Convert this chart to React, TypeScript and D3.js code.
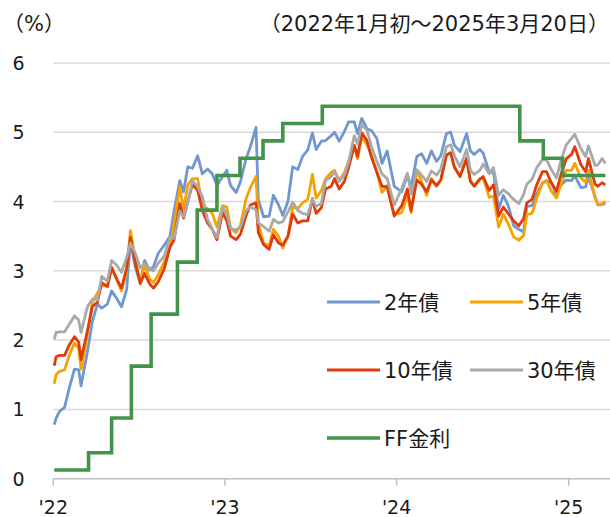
import React from 'react';
import * as d3 from 'd3';

const dates = [
  "2022-01-03","2022-01-07","2022-01-14","2022-01-25","2022-02-04","2022-02-15","2022-02-24","2022-03-01","2022-03-15","2022-03-25",
  "2022-04-05","2022-04-14","2022-04-26","2022-05-05","2022-05-16","2022-05-26","2022-06-06","2022-06-14","2022-06-24","2022-07-05",
  "2022-07-14","2022-07-25","2022-08-02","2022-08-12","2022-08-25","2022-09-06","2022-09-15","2022-09-27","2022-10-05","2022-10-14",
  "2022-10-24","2022-11-04","2022-11-14","2022-11-25","2022-12-05","2022-12-15","2022-12-27",
  "2023-01-05","2023-01-13","2023-01-25","2023-02-03","2023-02-15","2023-02-24","2023-03-08","2023-03-13","2023-03-24","2023-04-05",
  "2023-04-14","2023-04-25","2023-05-04","2023-05-15","2023-05-25","2023-06-05","2023-06-15","2023-06-26","2023-07-06","2023-07-14",
  "2023-07-25","2023-08-03","2023-08-15","2023-08-22","2023-09-01","2023-09-12","2023-09-21","2023-10-03","2023-10-10","2023-10-19",
  "2023-10-30","2023-11-09","2023-11-20","2023-12-01","2023-12-12","2023-12-27",
  "2024-01-12","2024-01-24","2024-02-01","2024-02-13","2024-02-23","2024-03-05","2024-03-15","2024-03-26","2024-04-04","2024-04-16",
  "2024-04-25","2024-05-03","2024-05-15","2024-05-29","2024-06-06","2024-06-14","2024-06-26","2024-07-03","2024-07-16","2024-07-25",
  "2024-08-05","2024-08-15","2024-08-26","2024-09-06","2024-09-17","2024-09-27","2024-10-04","2024-10-15","2024-10-25","2024-11-06",
  "2024-11-15","2024-11-25","2024-12-06","2024-12-16","2024-12-27",
  "2025-01-07","2025-01-14","2025-01-27","2025-02-06","2025-02-12","2025-02-26","2025-03-04","2025-03-13","2025-03-20"
];

const y2 = [
  0.78,0.87,0.97,1.03,1.31,1.58,1.57,1.34,1.85,2.27,
  2.52,2.46,2.52,2.71,2.60,2.48,2.73,3.43,3.06,2.82,
  3.15,3.01,3.06,3.25,3.37,3.50,3.87,4.30,4.14,4.50,
  4.48,4.66,4.40,4.47,4.40,4.23,4.36,
  4.45,4.23,4.13,4.29,4.62,4.79,5.07,4.03,3.78,3.79,
  4.09,3.95,3.80,4.00,4.50,4.46,4.65,4.74,4.99,4.75,
  4.87,4.88,4.95,5.00,4.87,5.01,5.15,5.15,4.98,5.20,
  5.05,5.02,4.91,4.55,4.73,4.22,
  4.14,4.38,4.21,4.65,4.69,4.55,4.73,4.58,4.66,4.98,
  5.00,4.81,4.72,4.98,4.73,4.68,4.75,4.70,4.42,4.42,
  3.89,4.09,3.93,3.65,3.60,3.56,3.93,3.94,4.11,4.27,
  4.30,4.27,4.10,4.24,4.31,
  4.30,4.37,4.20,4.21,4.36,4.07,3.95,3.96,3.97
];

const y5 = [
  1.37,1.50,1.55,1.57,1.78,1.96,1.88,1.58,2.10,2.55,
  2.68,2.79,2.79,3.04,2.87,2.71,3.00,3.58,3.19,2.81,
  3.09,2.88,2.83,2.94,3.13,3.34,3.68,4.21,3.89,4.24,
  4.33,4.33,3.93,3.90,3.83,3.63,3.94,
  3.92,3.61,3.55,3.66,4.04,4.20,4.36,3.69,3.40,3.36,
  3.60,3.50,3.33,3.50,3.92,3.90,3.98,4.03,4.39,4.05,
  4.16,4.33,4.42,4.45,4.30,4.42,4.58,4.80,4.62,4.94,
  4.82,4.66,4.43,4.13,4.23,3.81,
  3.84,4.08,3.84,4.45,4.29,4.09,4.33,4.22,4.31,4.67,
  4.71,4.48,4.37,4.62,4.30,4.23,4.33,4.34,4.06,4.08,
  3.63,3.82,3.67,3.49,3.44,3.51,3.81,3.83,4.05,4.26,
  4.30,4.15,4.05,4.26,4.45,
  4.45,4.55,4.34,4.28,4.45,4.05,3.96,3.97,4.00
];

const y10 = [
  1.63,1.76,1.78,1.78,1.93,2.05,1.97,1.72,2.15,2.48,
  2.55,2.83,2.77,3.05,2.88,2.75,3.04,3.48,3.13,2.82,
  2.96,2.81,2.75,2.84,3.03,3.34,3.45,3.97,3.76,4.00,
  4.25,4.16,3.87,3.69,3.60,3.45,3.84,
  3.72,3.50,3.45,3.53,3.80,3.95,3.98,3.55,3.38,3.31,
  3.52,3.40,3.37,3.50,3.82,3.69,3.72,3.72,4.04,3.83,
  3.91,4.18,4.22,4.33,4.18,4.29,4.49,4.81,4.65,4.99,
  4.88,4.63,4.42,4.22,4.21,3.79,
  3.94,4.18,3.87,4.31,4.25,4.14,4.31,4.23,4.31,4.67,
  4.70,4.50,4.36,4.62,4.29,4.22,4.32,4.36,4.16,4.24,
  3.79,3.92,3.82,3.72,3.65,3.75,3.98,4.03,4.24,4.43,
  4.43,4.27,4.15,4.40,4.62,
  4.68,4.79,4.53,4.43,4.62,4.25,4.22,4.27,4.24
];

const y30 = [
  2.01,2.11,2.12,2.12,2.23,2.35,2.29,2.11,2.49,2.59,
  2.58,2.92,2.85,3.15,3.08,2.98,3.19,3.40,3.26,3.04,
  3.10,3.03,3.00,3.11,3.21,3.49,3.47,3.86,3.78,3.99,
  4.30,4.21,4.07,3.74,3.61,3.48,3.92,
  3.81,3.61,3.59,3.63,3.87,3.92,3.88,3.69,3.64,3.57,
  3.74,3.69,3.71,3.85,3.99,3.87,3.83,3.81,4.03,3.93,
  3.97,4.30,4.36,4.43,4.29,4.38,4.57,4.95,4.83,5.11,
  5.03,4.78,4.58,4.40,4.33,3.95,
  4.19,4.41,4.11,4.46,4.38,4.29,4.44,4.38,4.47,4.79,
  4.82,4.66,4.50,4.75,4.45,4.39,4.45,4.54,4.40,4.49,
  4.09,4.17,4.11,4.03,3.97,4.10,4.25,4.32,4.49,4.60,
  4.60,4.46,4.34,4.60,4.82,
  4.91,4.97,4.76,4.65,4.80,4.52,4.53,4.62,4.55
];

const ffDates = [
  "2022-01-03","2022-03-17","2022-05-05","2022-06-16","2022-07-28","2022-09-22","2022-11-03","2022-12-15",
  "2023-02-02","2023-03-23","2023-05-04","2023-07-27","2024-09-19","2024-11-08","2024-12-19","2025-03-20"
];
const ffRates = [0.125,0.375,0.875,1.625,2.375,3.125,3.875,4.375,4.625,4.875,5.125,5.375,4.875,4.625,4.375,4.375];

const yTicks = [0, 1, 2, 3, 4, 5, 6];
const xTickYears = [2022, 2023, 2024, 2025];
const xTickLabels = ["'22", "'23", "'24", "'25"];
const seriesNames = ["2年債", "5年債", "10年債", "30年債", "FF金利"];
const seriesColors = ["#7097d0", "#f5a300", "#e03b0b", "#a9a9a9", "#43944a"];
const unitLabel = "（%）";
const periodLabel = "（2022年1月初～2025年3月20日）";

const FONT = "'DejaVu Sans', 'Noto Sans CJK JP', sans-serif";

export default function App() {
  const parse = d3.timeParse("%Y-%m-%d");
  const x = d3.scaleTime().domain([new Date(2022, 0, 1), new Date(2025, 0, 1)]).range([53.3, 568.7]);
  const y = d3.scaleLinear().domain([0, 6]).range([478.7, 62.9]);
  const line = d3.line<[Date, number]>().x(d => x(d[0])).y(d => y(d[1]));
  const stepLine = d3.line<[Date, number]>().x(d => x(d[0])).y(d => y(d[1])).curve(d3.curveStepAfter);

  const parsed = dates.map(d => parse(d) as Date);
  const series = [y2, y5, y10, y30].map(vals => vals.map((v, i) => [parsed[i], v] as [Date, number]));
  const ff = ffDates.map((d, i) => [parse(d) as Date, ffRates[i]] as [Date, number]);

  const plotLeft = 53.3;
  const plotRight = 610;

  const legend = [
    { name: seriesNames[0], color: seriesColors[0], lx: 327, ly: 302 },
    { name: seriesNames[1], color: seriesColors[1], lx: 470, ly: 302 },
    { name: seriesNames[2], color: seriesColors[2], lx: 327, ly: 370 },
    { name: seriesNames[3], color: seriesColors[3], lx: 470, ly: 370 },
    { name: seriesNames[4], color: seriesColors[4], lx: 327, ly: 438 },
  ];

  return (
    <svg width={610} height={517} style={{ position: 'absolute', left: 0, top: 0, background: '#fff' }} fontFamily={FONT}>
      {yTicks.filter(t => t > 0).map(t => (
        <line key={t} x1={plotLeft} x2={plotRight} y1={y(t)} y2={y(t)} stroke="#d9d9d9" strokeWidth={1.5} />
      ))}
      <line x1={plotLeft} x2={plotRight} y1={y(0)} y2={y(0)} stroke="#bfbfbf" strokeWidth={1.5} />
      {xTickYears.map(yr => (
        <line key={yr} x1={x(new Date(yr, 0, 1))} x2={x(new Date(yr, 0, 1))} y1={y(0)} y2={y(0) + 7} stroke="#bfbfbf" strokeWidth={1.5} />
      ))}
      {yTicks.map(t => (
        <text key={t} x={18.5} y={y(t) + 7} textAnchor="middle" fontSize={19} fill="#1a1a1a">{t}</text>
      ))}
      {xTickYears.map((yr, i) => (
        <text key={yr} x={x(new Date(yr, 0, 1))} y={514} textAnchor="middle" fontSize={19} fill="#1a1a1a">{xTickLabels[i]}</text>
      ))}
      <text x={3} y={31} fontSize={21} fill="#1a1a1a">{unitLabel}</text>
      <text x={609} y={31} textAnchor="end" fontSize={21} fill="#1a1a1a">{periodLabel}</text>

      {series.map((s, i) => (
        <path key={i} d={line(s) || ''} fill="none" stroke={seriesColors[i]} strokeWidth={2.8} strokeLinejoin="round" />
      ))}
      <path d={stepLine(ff) || ''} fill="none" stroke={seriesColors[4]} strokeWidth={3.6} />

      {legend.map((l, i) => (
        <g key={i}>
          <line x1={l.lx} x2={l.lx + 53} y1={l.ly} y2={l.ly} stroke={l.color} strokeWidth={i === 4 ? 3.6 : 2.8} />
          <text x={l.lx + 57} y={l.ly + 7.5} fontSize={21} fill="#1a1a1a">{l.name}</text>
        </g>
      ))}
    </svg>
  );
}
